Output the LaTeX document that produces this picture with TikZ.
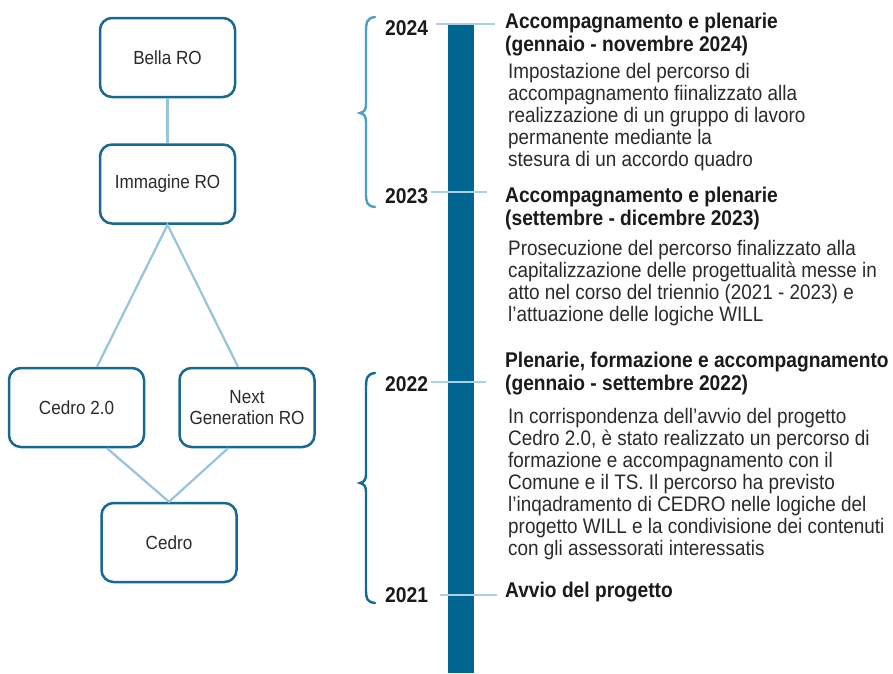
\documentclass[tikz,border=0pt]{standalone}
\usepackage{fontspec}
\setmainfont{Liberation Sans}
% a slightly condensed cut of the same face for all labels
\newfontfamily\narrowfont[FakeStretch=0.9]{Liberation Sans}
\usetikzlibrary{calc}

\definecolor{boxline}{HTML}{17698F}
\definecolor{linkblue}{HTML}{96C4DD}
\definecolor{barblue}{HTML}{00668F}
\definecolor{tickblue}{HTML}{A9D0E4}
\definecolor{braceA}{HTML}{4A9EC9}
\definecolor{braceB}{HTML}{0F6A96}
\definecolor{bodytext}{HTML}{2A2A2A}
\definecolor{headtext}{HTML}{1A1A1A}

\tikzset{
  orgbox/.style={draw=boxline, line width=2.5pt, rounded corners=12pt,
    minimum width=135pt, minimum height=79pt, inner sep=2pt, align=center,
    text=bodytext, font=\narrowfont\fontsize{19}{21}\selectfont},
  link/.style={draw=linkblue, line width=2.2pt},
  tickline/.style={draw=tickblue, line width=2.4pt},
  yearlabel/.style={anchor=base west, inner sep=0pt, text=headtext,
    font=\narrowfont\fontsize{21.4}{23}\selectfont\bfseries},
  % multi-line blocks are placed by the baseline of their last line
  headline/.style={anchor=base west, inner sep=0pt, align=left, text=headtext,
    font=\narrowfont\fontsize{21.3}{23}\selectfont\bfseries},
  bodyblock/.style={anchor=base west, inner sep=0pt, align=left, text=bodytext,
    font=\narrowfont\fontsize{21}{22}\selectfont},
  bracepath/.style={line width=2.4pt, line cap=round}
}

\begin{document}
\begin{tikzpicture}[x=1pt,y=-1pt]
\useasboundingbox (0,0) rectangle (893,673);

% ---------- organisation tree ----------
\node[orgbox] (bella) at (167.5,57.5) {Bella RO};
\node[orgbox] (imm) at (167.5,184) {Immagine RO};
\node[orgbox] (c2) at (76.5,407.5) {Cedro 2.0};
\node[orgbox] (ngr) at (247,407.5) {Next\\Generation RO};
\node[orgbox] (cedro) at (169,542.5) {Cedro};

\draw[link] (bella.south) -- (imm.north);
\draw[link] ([xshift=20.5pt]c2.north) -- (imm.south) -- ([xshift=-9pt]ngr.north);
\draw[link] ([xshift=30.5pt]c2.south) -- (cedro.north) -- ([xshift=-19pt]ngr.south);

% ---------- timeline bar ----------
\fill[barblue] (448,25) rectangle (474,673);

% year labels
\node[yearlabel] (y24) at (385,35) {2024};
\node[yearlabel] (y23) at (385,203) {2023};
\node[yearlabel] (y22) at (385,391) {2022};
\node[yearlabel] (y21) at (385,602) {2021};

% tick marks crossing the bar
\coordinate (k24a) at (436,24);  \coordinate (k24b) at (495,24);
\coordinate (k23a) at (431,192); \coordinate (k23b) at (487,192);
\coordinate (k22a) at (431,382); \coordinate (k22b) at (486,382);
\coordinate (k21a) at (440,595); \coordinate (k21b) at (497,595);
\draw[tickline] (k24a) -- (k24b);
\draw[tickline] (k23a) -- (k23b);
\draw[tickline] (k22a) -- (k22b);
\draw[tickline] (k21a) -- (k21b);

% braces grouping the periods
\draw[bracepath, braceA] (375,17) .. controls (367,18) and (366,22) .. (366,32)
  -- (366,104) .. controls (366,110) and (364,112) .. (360,113)
  .. controls (364,114) and (366,116) .. (366,122)
  -- (366,193) .. controls (366,203) and (367,206) .. (375,207);
\draw[bracepath, braceB] (375,373) .. controls (367,374) and (366,378) .. (366,388)
  -- (366,474) .. controls (366,480) and (364,482) .. (360,483)
  .. controls (364,484) and (366,486) .. (366,492)
  -- (366,589) .. controls (366,599) and (367,602) .. (375,603);

% ---------- descriptions ----------
\node[headline] (h24) at (505,51) {Accompagnamento e plenarie\\(gennaio - novembre 2024)};
\node[bodyblock] (b24) at (508,166.5) {Impostazione del percorso di\\
  accompagnamento fiinalizzato alla\\
  realizzazione di un gruppo di lavoro\\
  permanente mediante la\\
  stesura di un accordo quadro};

\node[headline] (h23) at (505,225) {Accompagnamento e plenarie\\(settembre - dicembre 2023)};
\node[bodyblock] (b23) at (508,321) {Prosecuzione del percorso finalizzato alla\\
  capitalizzazione delle progettualità messe in\\
  atto nel corso del triennio (2021 - 2023) e\\
  l’attuazione delle logiche WILL};

\node[headline] (h22) at (505,390) {Plenarie, formazione e accompagnamento\\(gennaio - settembre 2022)};
\node[bodyblock] (b22) at (508,555) {In corrispondenza dell’avvio del progetto\\
  Cedro 2.0, è stato realizzato un percorso di\\
  formazione e accompagnamento con il\\
  Comune e il TS. Il percorso ha previsto\\
  l’inqadramento di CEDRO nelle logiche del\\
  progetto WILL e la condivisione dei contenuti\\
  con gli assessorati interessatis};

\node[headline] (h21) at (505,597) {Avvio del progetto};
\end{tikzpicture}
\end{document}
